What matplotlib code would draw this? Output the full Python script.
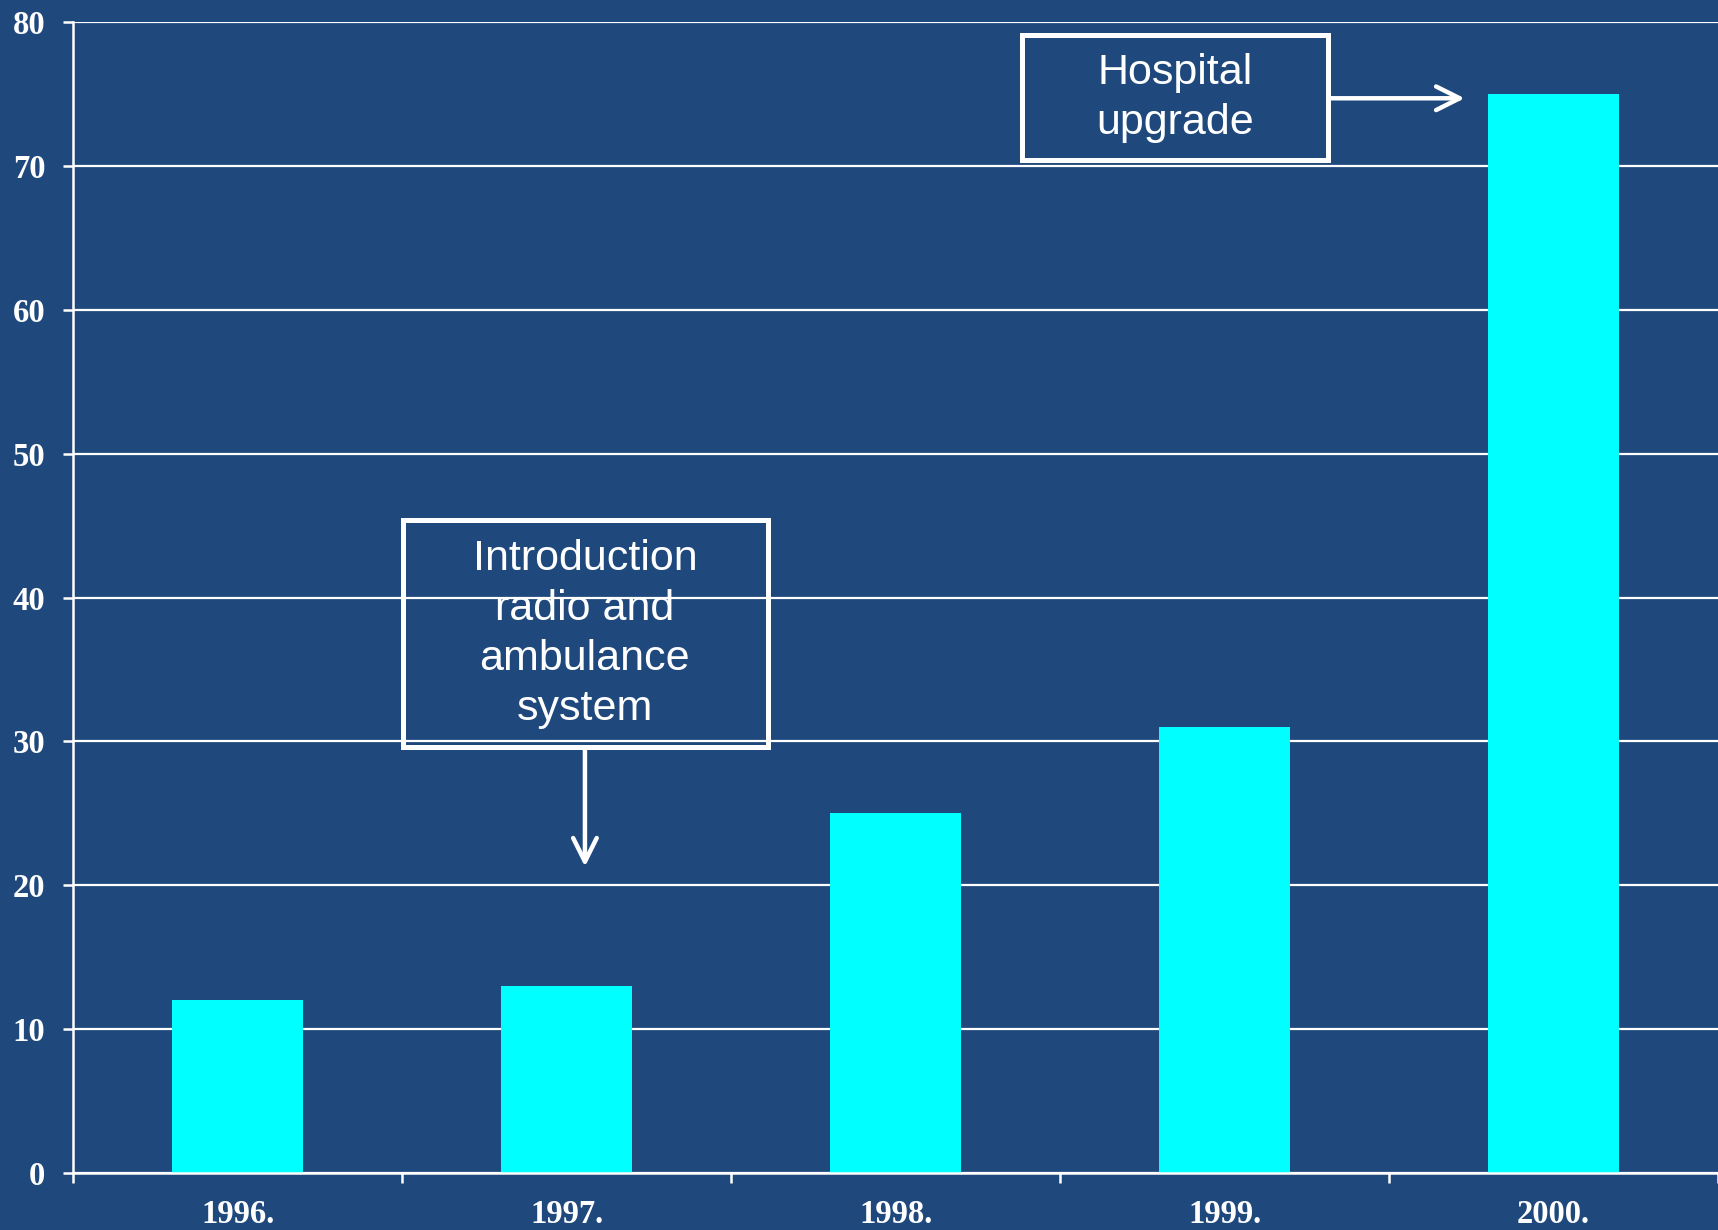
import matplotlib.pyplot as plt
from matplotlib.patches import Rectangle

# Data
years = ["1996.", "1997.", "1998.", "1999.", "2000."]
values = [12, 13, 25, 31, 75]

bg = "#1F497D"
bar_color = "#00FFFF"

fig = plt.figure(figsize=(17.18, 12.30), dpi=100, facecolor=bg)
ax = fig.add_axes([0.0425, 0.0463, 0.9575, 0.9358])
ax.set_facecolor(bg)

x = range(len(years))
ax.bar(x, values, width=0.4, color=bar_color, zorder=3)

ax.set_xlim(-0.5, len(years) - 0.5)
ax.set_ylim(0, 80)
ax.set_yticks(range(0, 81, 10))

# gridlines
ax.grid(axis="y", color="white", linewidth=1.6, zorder=1)
ax.set_axisbelow(True)

# spines
for s in ["top", "right"]:
    ax.spines[s].set_visible(False)
for s in ["left", "bottom"]:
    ax.spines[s].set_color("white")
    ax.spines[s].set_linewidth(1.8)
    ax.spines[s].set_zorder(4)

# x labels at centers, ticks at boundaries
ax.set_xticks(list(x))
ax.set_xticklabels(years)
ax.set_xticks([i - 0.5 for i in range(len(years) + 1)], minor=True)
ax.tick_params(axis="x", which="major", length=0, pad=19)
ax.tick_params(axis="x", which="minor", length=7, width=1.8, color="white", direction="out")
ax.tick_params(axis="y", length=7, width=1.8, color="white", pad=13)

for lab in ax.get_xticklabels() + ax.get_yticklabels():
    lab.set_fontfamily("Liberation Serif")
    lab.set_fontweight("bold")
    lab.set_fontsize(23.5)
    lab.set_color("white")

# Annotations
ann_font = dict(family="Liberation Sans", size=31, color="white", ha="center", va="center",
                linespacing=1.32, zorder=6)
arrow = dict(arrowstyle="->,head_length=1.7,head_width=0.85",
             color="white", linewidth=3.2, shrinkA=0, shrinkB=0)

# Hospital upgrade box
ax.add_patch(Rectangle((2.384, 70.4), 0.931, 8.7, fill=False, edgecolor="white",
                       linewidth=3.6, zorder=5))
ax.text(2.85, 74.7, "Hospital\nupgrade", **ann_font)
ax.annotate("", xy=(3.73, 74.7), xytext=(3.315, 74.7), arrowprops=arrow, zorder=6)

# Introduction box
ax.add_patch(Rectangle((0.503, 29.6), 1.109, 15.8, fill=False, edgecolor="white",
                       linewidth=3.6, zorder=5))
ax.text(1.056, 37.45, "Introduction\nradio and\nambulance\nsystem", **ann_font)
ax.annotate("", xy=(1.056, 21.3), xytext=(1.056, 29.6), arrowprops=arrow, zorder=6)

fig.savefig("out.png", dpi=100, facecolor=bg)
